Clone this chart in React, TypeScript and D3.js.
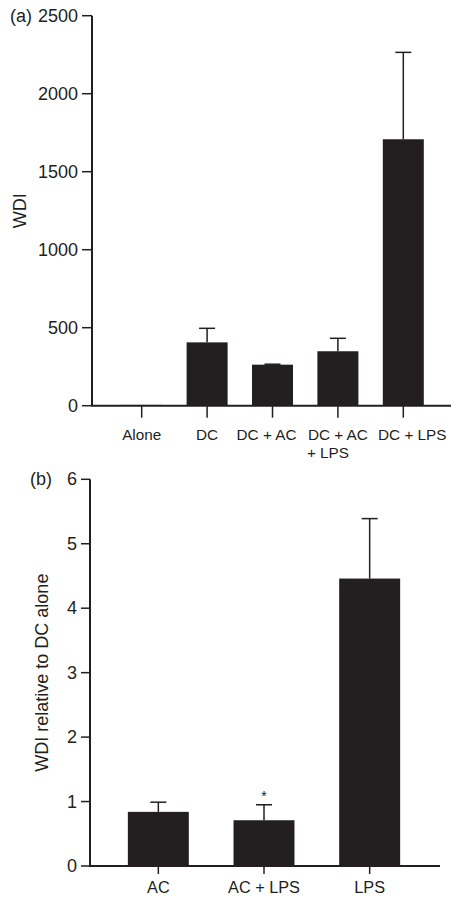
import React from "react";
import * as d3 from "d3";

// panel (a): raw WDI
const groupsA = ["Alone", "DC", "DC + AC", "DC + AC|+ LPS", "DC + LPS"];
const meansA = [5, 406, 263, 349, 1708];
const errorsA = [0, 90, 3, 83, 557];
const ticksA = [0, 500, 1000, 1500, 2000, 2500];

// panel (b): relative to DC alone
const groupsB = ["AC", "AC + LPS", "LPS"];
const meansB = [0.84, 0.71, 4.46];
const errorsB = [0.15, 0.24, 0.93];
const ticksB = [0, 1, 2, 3, 4, 5, 6];
const starsB = ["", "*", ""];

const ink = "#231f20";
const font = "'Liberation Sans', Arial, Helvetica, sans-serif";

type PanelProps = {
  tag: string;
  title: string;
  groups: string[];
  means: number[];
  errors: number[];
  ticks: number[];
  stars?: string[];
  labelNudge?: number[];
  axisX: number;
  axisEnd: number;
  bandRange: [number, number];
  padInner: number;
  yRange: [number, number];
  titleX: number;
  tagX: number;
  tagY: number;
  yTickLen: number;
  xTickLen: number;
  labelY: number;
  labelSize: number;
};

function Panel(p: PanelProps) {
  const x = d3.scaleBand<string>()
    .domain(p.groups)
    .range(p.bandRange)
    .paddingInner(p.padInner)
    .paddingOuter(p.padInner / 2);
  const y = d3.scaleLinear()
    .domain([0, p.ticks[p.ticks.length - 1]])
    .range(p.yRange);
  const y0 = y(0);
  const bw = x.bandwidth();
  const titleMid = (p.yRange[0] + p.yRange[1]) / 2;

  return (
    <g fontFamily={font} fill={ink}>
      <text x={p.tagX} y={p.tagY} fontSize={18}>{p.tag}</text>
      <text
        transform={`translate(${p.titleX},${titleMid}) rotate(-90)`}
        textAnchor="middle"
        fontSize={18}
      >{p.title}</text>

      {/* bars */}
      {p.groups.map((g, i) => (
        <rect key={g} x={x(g)} y={y(p.means[i])} width={bw}
          height={y0 - y(p.means[i])} fill={ink} />
      ))}

      {/* error bars, upper only */}
      {p.groups.map((g, i) => {
        if (!p.errors[i]) return null;
        const cx = (x(g) as number) + bw / 2;
        const top = y(p.means[i] + p.errors[i]);
        return (
          <g key={g} stroke={ink} strokeWidth={1.5}>
            <line x1={cx} x2={cx} y1={y(p.means[i])} y2={top} />
            <line x1={cx - 8} x2={cx + 8} y1={top} y2={top} />
          </g>
        );
      })}

      {p.stars && p.groups.map((g, i) => p.stars![i] ? (
        <text key={g} x={(x(g) as number) + bw / 2}
          y={y(p.means[i] + p.errors[i]) - 4}
          textAnchor="middle" fontSize={14}>{p.stars![i]}</text>
      ) : null)}

      {/* y axis */}
      <line x1={p.axisX} x2={p.axisX} y1={y(p.ticks[p.ticks.length - 1])} y2={y0}
        stroke={ink} strokeWidth={2} />
      {p.ticks.map((t) => (
        <g key={t}>
          <line x1={p.axisX - p.yTickLen} x2={p.axisX} y1={y(t)} y2={y(t)}
            stroke={ink} strokeWidth={1.5} />
          <text x={p.axisX - p.yTickLen - 4} y={y(t)} dy="0.34em"
            textAnchor="end" fontSize={18}>{t}</text>
        </g>
      ))}

      {/* x axis */}
      <line x1={p.axisX - 1} x2={p.axisEnd} y1={y0} y2={y0} stroke={ink} strokeWidth={2} />
      {p.groups.map((g, i) => {
        const cx = (x(g) as number) + bw / 2;
        const lx = cx + (p.labelNudge ? p.labelNudge[i] : 0);
        const lines = g.split("|");
        return (
          <g key={g}>
            <line x1={cx} x2={cx} y1={y0} y2={y0 + p.xTickLen} stroke={ink} strokeWidth={1.5} />
            <text x={lx} y={p.labelY} textAnchor="middle" fontSize={p.labelSize}>{lines[0]}</text>
            {lines[1] && (
              <text x={lx - 31} y={p.labelY + 18} fontSize={p.labelSize}>{lines[1]}</text>
            )}
          </g>
        );
      })}
    </g>
  );
}

export default function App() {
  return (
    <svg width={451} height={898} style={{ position: "absolute", left: 0, top: 0, background: "#fff" }}>
      <Panel
        tag="(a)" title="WDI"
        groups={groupsA} means={meansA} errors={errorsA} ticks={ticksA}
        labelNudge={[0, 0, -6, 0, 9]}
        axisX={92} axisEnd={451}
        bandRange={[109, 436]} padInner={0.373}
        yRange={[405.7, 15.7]}
        titleX={26} tagX={10} tagY={22}
        yTickLen={10} xTickLen={12} labelY={440} labelSize={15.3}
      />
      <Panel
        tag="(b)" title="WDI relative to DC alone"
        groups={groupsB} means={meansB} errors={errorsB} ticks={ticksB} stars={starsB}
        axisX={90} axisEnd={440}
        bandRange={[105.5, 422.5]} padInner={0.423}
        yRange={[866, 479.3]}
        titleX={48} tagX={30} tagY={485}
        yTickLen={9} xTickLen={8} labelY={893} labelSize={16.3}
      />
    </svg>
  );
}
